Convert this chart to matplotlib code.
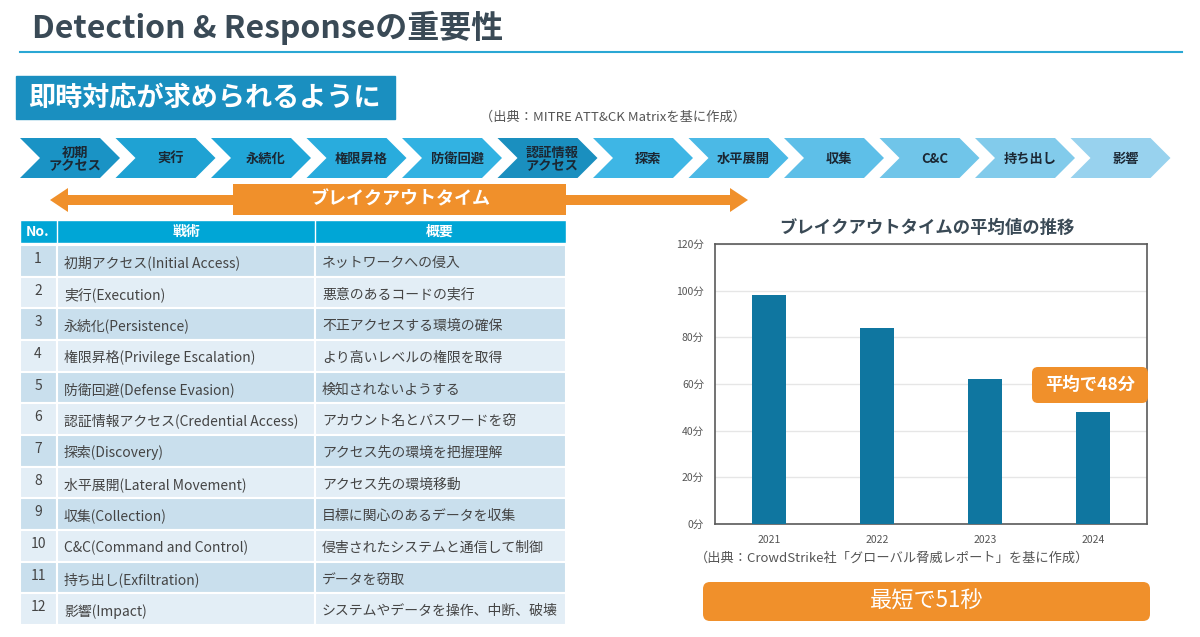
"""Detection & Response slide - breakout time chart."""
import matplotlib
matplotlib.use("Agg")
import matplotlib.pyplot as plt
from matplotlib.patches import Polygon, Rectangle, FancyBboxPatch

plt.rcParams["font.family"] = ["Noto Sans CJK JP", "DejaVu Sans"]

stages = ["初期\nアクセス", "実行", "永続化", "権限昇格", "防衛回避", "認証情報\nアクセス",
          "探索", "水平展開", "収集", "C&C", "持ち出し", "影響"]
stage_colors = ["#1a93c5", "#1fa2d3", "#21a6d8", "#29acdd", "#32b2e2", "#1a8fbf",
                "#3eb6e5", "#4bb9e6", "#5ebfe8", "#70c5e9", "#82cbeb", "#98d2ee"]
nos = [str(i) for i in range(1, 13)]
tactics = ["初期アクセス(Initial Access)", "実行(Execution)", "永続化(Persistence)",
           "権限昇格(Privilege Escalation)", "防衛回避(Defense Evasion)",
           "認証情報アクセス(Credential Access)", "探索(Discovery)",
           "水平展開(Lateral Movement)", "収集(Collection)",
           "C&C(Command and Control)", "持ち出し(Exfiltration)", "影響(Impact)"]
summaries = ["ネットワークへの侵入", "悪意のあるコードの実行", "不正アクセスする環境の確保",
             "より高いレベルの権限を取得", "検知されないようする", "アカウント名とパスワードを窃",
             "アクセス先の環境を把握理解", "アクセス先の環境移動", "目標に関心のあるデータを収集",
             "侵害されたシステムと通信して制御", "データを窃取", "システムやデータを操作、中断、破壊"]
years = ["2021", "2022", "2023", "2024"]
minutes = [98, 84, 62, 48]
yticks = [0, 20, 40, 60, 80, 100, 120]

W, H = 1200, 637
fig = plt.figure(figsize=(12, 6.37), dpi=100)
fig.patch.set_facecolor("white")
bg = fig.add_axes([0, 0, 1, 1])
bg.set_xlim(0, W); bg.set_ylim(H, 0); bg.axis("off")

DARK = "#3a4a56"
ORANGE = "#f0902b"

# title
bg.text(32, 28, "Detection & Responseの重要性", fontsize=23, fontweight="bold",
        color=DARK, va="center", ha="left")
bg.plot([20, 1182], [52, 52], color="#2aa7d4", lw=1.5)

# subtitle box
bg.add_patch(Rectangle((16, 76), 379, 43, color="#1a8fc0"))
bg.text(28, 98, "即時対応が求められるように", fontsize=19.5, fontweight="bold",
        color="white", va="center", ha="left")
bg.text(480, 117, "（出典：MITRE ATT&CK Matrixを基に作成）", fontsize=9.5,
        color="#555555", va="center", ha="left")

# chevrons
x0, pitch, cw, d, top, bot = 20, 95.5, 100, 20, 138, 178
mid = (top + bot) / 2
for i, (name, col) in enumerate(zip(stages, stage_colors)):
    x = x0 + i * pitch
    pts = [(x, top), (x + cw - d, top), (x + cw, mid), (x + cw - d, bot), (x, bot), (x + d, mid)]
    bg.add_patch(Polygon(pts, closed=True, color=col, lw=0))
    bg.text(x + cw / 2 + 5, mid + 1, name, fontsize=9.5, fontweight="bold", color="#1b2733",
            ha="center", va="center", linespacing=0.85)

# breakout time arrow
bg.add_patch(Polygon([(50, 200), (68, 188), (68, 195), (730, 195), (730, 188), (748, 200),
                      (730, 212), (730, 205), (68, 205), (68, 212)], closed=True,
                     color=ORANGE, lw=0))
bg.add_patch(Rectangle((233, 184), 333, 31, color=ORANGE, lw=0))
bg.text(400, 199, "ブレイクアウトタイム", fontsize=13, fontweight="bold", color="white",
        ha="center", va="center")

# table
cols = [20, 57, 315, 566]
bg.add_patch(Rectangle((cols[0], 220), cols[3] - cols[0], 23, facecolor="#00a6d6",
                       edgecolor="white", lw=1))
for c in (cols[1], cols[2]):
    bg.plot([c, c], [220, 243], color="white", lw=1)
bg.text(38, 232, "No.", fontsize=10, fontweight="bold", color="white", ha="center", va="center")
bg.text(186, 232, "戦術", fontsize=10, fontweight="bold", color="white", ha="center", va="center")
bg.text(440, 232, "概要", fontsize=10, fontweight="bold", color="white", ha="center", va="center")

row_top, row_h = 245, 31.67
for i in range(len(nos)):
    y = row_top + i * row_h
    fc = "#c9dfed" if i % 2 == 0 else "#e3eef6"
    for a, b in zip(cols[:-1], cols[1:]):
        bg.add_patch(Rectangle((a, y), b - a, row_h, facecolor=fc, edgecolor="white", lw=1.5))
    cy = y + row_h / 2
    bg.text(38, cy - 2, nos[i], fontsize=10, color="#444444", ha="center", va="center")
    bg.text(64, cy + 2, tactics[i], fontsize=10, color="#444444", ha="left", va="center")
    bg.text(322, cy + 2, summaries[i], fontsize=10, color="#444444", ha="left", va="center")

# bar chart
bg.text(927, 228, "ブレイクアウトタイムの平均値の推移", fontsize=12.5, fontweight="bold",
        color=DARK, ha="center", va="center")
ax = fig.add_axes([715 / W, 1 - 524 / H, 432 / W, 280 / H])
ax.bar(range(len(years)), minutes, width=0.31, color="#0f76a0", zorder=3)
ax.set_xlim(-0.5, len(years) - 0.5)
ax.set_ylim(0, 120)
ax.set_yticks(yticks)
ax.set_yticklabels([f"{v}分" for v in yticks])
ax.set_xticks(range(len(years)))
ax.set_xticklabels(years)
ax.tick_params(length=0, labelsize=7.5, colors="#555555", pad=8)
ax.grid(axis="y", color="#e6e6e6", lw=1, zorder=0)
for s in ax.spines.values():
    s.set_color("#5a5a5a"); s.set_linewidth(1.2)

# callout drawn on the chart axes so it sits above the bars
ax.add_patch(FancyBboxPatch((1032, 367), 116, 36, boxstyle="round,pad=0,rounding_size=6",
                            color=ORANGE, lw=0, zorder=5, transform=bg.transData,
                            clip_on=False))
ax.text(1090, 385, "平均で48分", fontsize=12.5, fontweight="bold", color="white",
        ha="center", va="center", zorder=6, transform=bg.transData, clip_on=False)

bg.text(695, 558, "（出典：CrowdStrike社「グローバル脅威レポート」を基に作成）", fontsize=9.5,
        color="#555555", ha="left", va="center")
bg.add_patch(FancyBboxPatch((703, 582), 447, 39, boxstyle="round,pad=0,rounding_size=7",
                            color=ORANGE, lw=0))
bg.text(927, 601, "最短で51秒", fontsize=16, color="white", ha="center", va="center")

fig.savefig("out.png", dpi=100)
plt.close(fig)
